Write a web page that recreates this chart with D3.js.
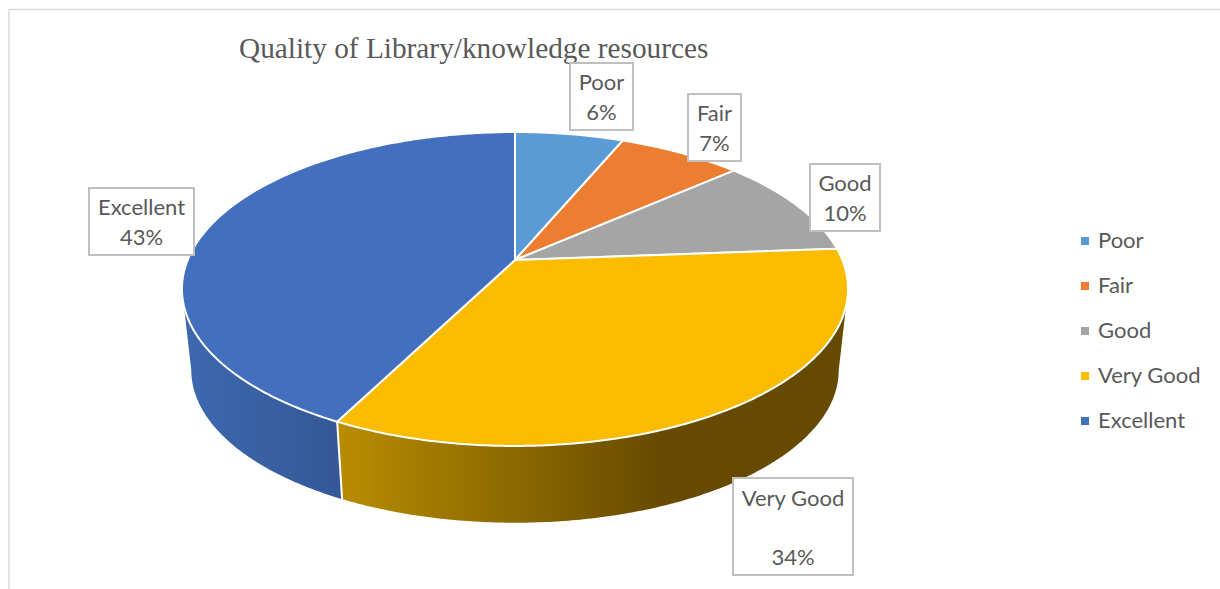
<!DOCTYPE html>
<meta charset="utf-8">
<style type="text/css">
body { margin: 0; background: #fff; }
text { font-family: Lato, "Open Sans", sans-serif; fill: #595959; font-size: 22px; }
.title { font-family: "Liberation Serif", serif; font-size: 29.3px; }
.box { fill: #fff; stroke: #bfbfbf; stroke-width: 2; }
.face { stroke: #fff; stroke-width: 2; stroke-linejoin: round; }
.wall { stroke: none; }
.seam { fill: none; stroke: #fff; stroke-width: 2; }
</style>
<body>
<svg id="chart" width="1220" height="589"></svg>
<script src="https://d3js.org/d3.v7.min.js"></script>
<script>
var categories = ["Poor", "Fair", "Good", "Very Good", "Excellent"];
var shares = [6.3, 7.2, 10.3, 33.7, 42.5];
var colors = ["#5b9bd5", "#ed7d31", "#a5a5a5", "#fbbc00", "#4270bf"];

// label boxes: [left, top, right, bottom], one per category
var labelBoxes = [[570, 63, 633, 130], [688, 94, 741, 161], [810, 164, 880, 231], [733, 478, 853, 575], [89, 188, 194, 255]];
// the second line of the Very Good label sits lower in the original
var labelLines = [[83, 113], [114, 144], [184, 214], [499, 558], [208, 238]];

var legendY = [241, 286, 331, 376, 421];

var svg = d3.select("#chart");
var fmt = d3.format(".0%");

// perspective of the tilted pie: hub is not the middle of the ellipse
var k = 0.1847, a = 327.3, b = 151.6, hub = [515, 260];
var floorHub = [515, 342], floorScale = 0.972;

function project(t, h, s) {
  var u = Math.sin(t), v = Math.cos(t), w = 1 + k * v;
  return [h[0] + s * a * u / w, h[1] - s * b * v / w];
}
function top_(t) { return project(t, hub, 1); }
function bottom_(t) { return project(t, floorHub, floorScale); }

function sweep(t0, t1, fn) {
  var n = Math.max(2, Math.ceil(Math.abs(t1 - t0) / 0.01)), pts = [];
  for (var i = 0; i <= n; i++) pts.push(fn(t0 + (t1 - t0) * i / n));
  return pts;
}

var pie = d3.pie().sort(null).value(function(d) { return d; });
var arcs = pie(shares);
var total = d3.sum(shares);
var line = d3.line();

// the walls are only visible between the two tangent points of the ellipse
var wallFrom = Math.acos(-k), wallTo = 2 * Math.PI - wallFrom;

var defs = svg.append("defs");
function gradient(id, x1, x2, stops) {
  var g = defs.append("linearGradient").attr("id", id)
    .attr("gradientUnits", "userSpaceOnUse")
    .attr("x1", x1).attr("x2", x2).attr("y1", 0).attr("y2", 0);
  stops.forEach(function(s) { g.append("stop").attr("offset", s[0]).attr("stop-color", s[1]); });
}
gradient("wall3", 341, 848, [[0, "#b88c00"], [0.63, "#664a00"], [1, "#664a00"]]);
gradient("wall4", 182, 341, [[0, "#3d68b0"], [1, "#345896"]]);

// chart frame
svg.append("path").attr("d", "M9,589V9.5H1220").attr("fill", "none").attr("stroke", "#d9d9d9").attr("stroke-width", 1.5);

// walls
arcs.forEach(function(d, i) {
  var t0 = Math.max(d.startAngle, wallFrom), t1 = Math.min(d.endAngle, wallTo);
  if (t1 <= t0) return;
  var pts = sweep(t0, t1, top_).concat(sweep(t1, t0, bottom_));
  svg.append("path").attr("class", "wall")
    .attr("d", line(pts) + "Z")
    .attr("fill", "url(#wall" + i + ")");
});

// seam between the two walls
var seam = arcs[3].endAngle;
svg.append("path").attr("class", "seam").attr("d", line([top_(seam), bottom_(seam)]));

// top face
arcs.forEach(function(d, i) {
  var pts = [hub].concat(sweep(d.startAngle, d.endAngle, top_));
  svg.append("path").attr("class", "face")
    .attr("d", line(pts) + "Z")
    .attr("fill", colors[i]);
});

svg.append("text").attr("class", "title").attr("x", 239).attr("y", 58)
  .text("Quality of Library/knowledge resources");

// data labels
categories.forEach(function(c, i) {
  var r = labelBoxes[i], mid = (r[0] + r[2]) / 2;
  svg.append("rect").attr("class", "box")
    .attr("x", r[0]).attr("y", r[1])
    .attr("width", r[2] - r[0]).attr("height", r[3] - r[1]);
  svg.append("text").attr("x", mid).attr("y", labelLines[i][0] + 7)
    .attr("text-anchor", "middle").text(c);
  svg.append("text").attr("x", mid).attr("y", labelLines[i][1] + 7)
    .attr("text-anchor", "middle").text(fmt(shares[i] / total));
});

// legend
categories.forEach(function(c, i) {
  svg.append("rect").attr("x", 1081).attr("y", legendY[i] - 4).attr("width", 8).attr("height", 8)
    .attr("fill", colors[i]);
  svg.append("text").attr("x", 1098).attr("y", legendY[i] + 7).text(c);
});
</script>
</body>
